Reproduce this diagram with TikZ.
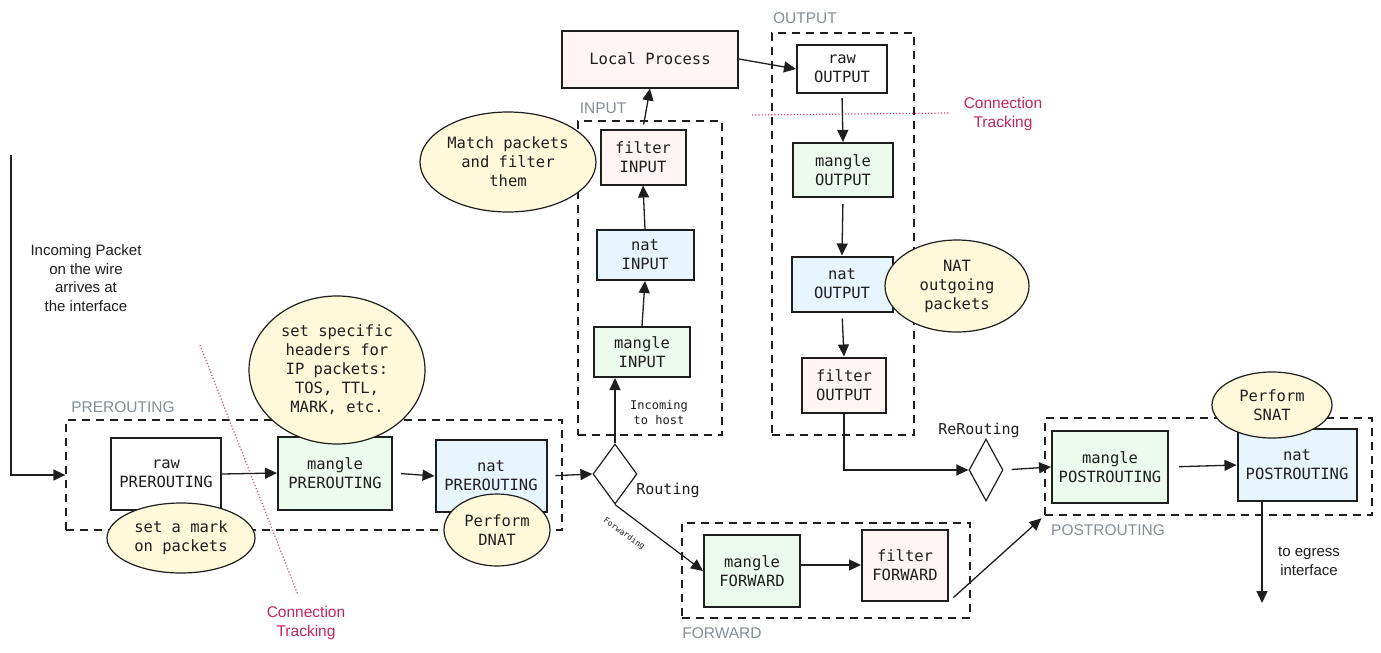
\documentclass[tikz,border=0pt]{standalone}
\usepackage{fontspec}
\setmainfont{Liberation Sans}
\setmonofont{DejaVu Sans Mono}
\usetikzlibrary{arrows.meta,shapes.geometric,calc}
\definecolor{gfill}{HTML}{EBFBEE}
\definecolor{bfill}{HTML}{E7F5FF}
\definecolor{pfill}{HTML}{FFF5F5}
\definecolor{yfill}{HTML}{FFF9DB}
\definecolor{ink}{HTML}{1E1E1E}
\definecolor{grp}{HTML}{868E96}
\definecolor{ctred}{HTML}{C2255C}
\definecolor{ctdot}{HTML}{E64980}
\begin{document}
\begin{tikzpicture}[x=1pt,y=-1pt,
  every node/.style={text=ink},
  box/.style={draw=ink,line width=2pt,align=center,inner sep=0pt,
    font=\fontsize{15.5}{19}\selectfont\ttfamily},
  wbox/.style={box,fill=white},
  gbox/.style={box,fill=gfill},
  bbox/.style={box,fill=bfill},
  pbox/.style={box,fill=pfill},
  grpbox/.style={draw=ink,line width=1.3pt,dash pattern=on 8pt off 6pt,inner sep=0pt},
  grplabel/.style={text=grp,font=\fontsize{15.5}{18}\selectfont},
  note/.style={ellipse,draw=ink,line width=1.2pt,fill=yfill,align=center,inner sep=0pt,
    font=\fontsize{15.5}{19}\selectfont\ttfamily},
  arr/.style={draw=ink,line width=1.3pt,-{Triangle[length=12pt,width=11pt]}},
  plain/.style={align=center,font=\fontsize{15}{18.5}\selectfont},
  ctline/.style={draw=ctdot,line width=1.2pt,dotted},
  ctlabel/.style={text=ctred,align=center,font=\fontsize{15.5}{19}\selectfont},
  decision/.style={diamond,draw=ink,line width=1.2pt,inner sep=0pt},
]
\fill[fill=white] (0,0) rectangle (1381,653);
\useasboundingbox (0,0) rectangle (1381,653);

% groups
\node[grpbox,minimum width=496pt,minimum height=110pt] (pregrp) at (314,475) {};
\node[grpbox,minimum width=144pt,minimum height=314pt] (ingrp) at (650,278) {};
\node[grpbox,minimum width=142pt,minimum height=402pt] (outgrp) at (843,234) {};
\node[grpbox,minimum width=327pt,minimum height=97pt] (postgrp) at (1208.5,466.5) {};
\node[grpbox,minimum width=288pt,minimum height=95pt] (fwdgrp) at (826,570.5) {};

\node[grplabel] (lpre) at (123,407) {PREROUTING};
\node[grplabel] (lin) at (603,108) {INPUT};
\node[grplabel] (lout) at (805,18) {OUTPUT};
\node[grplabel] (lpost) at (1108,530) {POSTROUTING};
\node[grplabel] (lfwd) at (722,633) {FORWARD};

% connection tracking
\coordinate (ct1a) at (200,345);
\coordinate (ct1b) at (298,595);
\draw[ctline] (ct1a) -- (ct1b);
\node[ctlabel] (ct1) at (306,623) {Connection\\Tracking};
\coordinate (ct2a) at (752,115);
\coordinate (ct2b) at (950,113);
\draw[ctline] (ct2a) -- (ct2b);
\node[ctlabel] (ct2) at (1003,114) {Connection\\Tracking};

% boxes
\node[wbox,minimum width=110pt,minimum height=72pt] (rawpre) at (166,474) {raw\\PREROUTING};
\node[gbox,minimum width=114pt,minimum height=73pt] (manpre) at (335,473) {mangle\\PREROUTING};
\node[bbox,minimum width=111pt,minimum height=72pt] (natpre) at (491,476) {nat\\PREROUTING};
\node[gbox,minimum width=96pt,minimum height=50pt] (manin) at (642,352) {mangle\\INPUT};
\node[bbox,minimum width=97pt,minimum height=50pt] (natin) at (645,255) {nat\\INPUT};
\node[pbox,minimum width=85pt,minimum height=55pt] (filin) at (643,157) {filter\\INPUT};
\node[pbox,minimum width=176pt,minimum height=57pt] (local) at (650,59) {Local Process};
\node[wbox,minimum width=90pt,minimum height=48pt] (rawout) at (842,69) {raw\\OUTPUT};
\node[gbox,minimum width=100pt,minimum height=54pt] (manout) at (843,170) {mangle\\OUTPUT};
\node[bbox,minimum width=101pt,minimum height=55pt] (natout) at (842,284) {nat\\OUTPUT};
\node[pbox,minimum width=84pt,minimum height=55pt] (filout) at (844,385) {filter\\OUTPUT};
\node[gbox,minimum width=116pt,minimum height=72pt] (manpost) at (1110,467) {mangle\\POSTROUTING};
\node[bbox,minimum width=119pt,minimum height=72pt] (natpost) at (1297,465) {nat\\POSTROUTING};
\node[gbox,minimum width=96pt,minimum height=72pt] (manfwd) at (752,571) {mangle\\FORWARD};
\node[pbox,minimum width=86pt,minimum height=71pt] (filfwd) at (905,565) {filter\\FORWARD};

% decisions
\node[decision,minimum width=44pt,minimum height=60pt] (route) at (615,474) {};
\node[decision,minimum width=34pt,minimum height=62pt] (reroute) at (986,470) {};
\node[font=\fontsize{15}{18}\selectfont\ttfamily] (lroute) at (668,490) {Routing};
\node[font=\fontsize{15}{18}\selectfont\ttfamily] (lreroute) at (979,430) {ReRouting};

% notes
\node[note,minimum width=176pt,minimum height=148pt] (nhdr) at (337,370) {set specific\\headers for\\IP packets:\\TOS, TTL,\\MARK, etc.};
\node[note,minimum width=148pt,minimum height=70pt] (nmark) at (181,538) {set a mark\\on packets};
\node[note,minimum width=106pt,minimum height=72pt] (ndnat) at (497,530) {Perform\\DNAT};
\node[note,minimum width=176pt,minimum height=100pt] (nmatch) at (508,162) {Match packets\\and filter\\them};
\node[note,minimum width=144pt,minimum height=92pt] (nnatout) at (957,286) {NAT\\outgoing\\packets};
\node[note,minimum width=120pt,minimum height=66pt] (nsnat) at (1272,405) {Perform\\SNAT};

% incoming
\coordinate (inc) at (11,155);
\node[plain] (tinc) at (86,278) {Incoming Packet\\on the wire\\arrives at\\the interface};
\draw[arr] (inc) |- (pregrp.west);

% flow
\draw[arr] (rawpre.east) -- (manpre.west);
\draw[arr,shorten <=8pt] (manpre.east) -- (natpre.west);
\draw[arr,shorten <=8pt] (natpre.east) -- (route.west);
\draw[arr] (route.north) -- (route.north |- manin.south);
\node[align=center,font=\fontsize{12}{15}\selectfont\ttfamily] (tinhost) at (659,413) {Incoming\\ to host};
\draw[arr] (manin.north) -- (natin.south);
\draw[arr] (natin.north) -- (filin.south);
\draw[arr,shorten <=4pt] (filin.north) -- (local.south);
\draw[arr] (local.east) -- (rawout.west);
\draw[arr,shorten <=4pt] (rawout.south) -- (manout.north);
\draw[arr,shorten <=6pt] (manout.south) -- (natout.north);
\draw[arr,shorten <=6pt] (natout.south) -- (filout.north);
\draw[arr] (filout.south) |- (reroute.west);
\draw[arr,shorten <=8pt] (reroute.east) -- (manpost.west);
\draw[arr,shorten <=10pt] (manpost.east) -- (natpost.west);
\draw[line width=1.2pt,draw=ink,-{Triangle[length=12pt,width=11pt]}] (route.south) -- (manfwd.west);
\node[rotate=-35,font=\fontsize{8}{10}\selectfont\ttfamily] (tfwd) at (624,534) {Forwarding};
\draw[arr] (manfwd.east |- filfwd.west) -- (filfwd.west);
\draw[arr,shorten <=6pt,shorten >=4pt] (filfwd.south east) -- (postgrp.south west);
\coordinate (egress) at (1262,603);
\draw[arr] (natpost.south -| egress) -- (egress);
\node[plain] (tegress) at (1309,561) {to egress\\interface};
\end{tikzpicture}
\end{document}
